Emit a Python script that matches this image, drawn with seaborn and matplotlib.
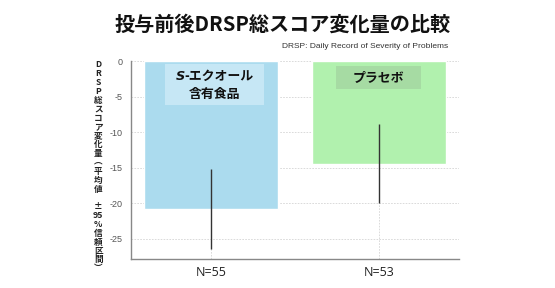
import matplotlib
matplotlib.use("Agg")
import matplotlib.pyplot as plt
import numpy as np
import pandas as pd
import seaborn as sns
from matplotlib.offsetbox import TextArea, HPacker, VPacker, AnnotationBbox, DrawingArea

# data
groups = ["S-エクオール含有食品", "プラセボ"]
tick_labels = ["N=55", "N=53"]
mean_change = [-20.8, -14.4]
ci_half = [5.6, 5.6]
bar_colors = ["#abdbee", "#b1f1ae"]
box_colors = ["#c6e7f5", "#a6dba3"]
yticks = [0, -5, -10, -15, -20, -25]

title = "投与前後DRSP総スコア変化量の比較"
subtitle = "DRSP: Daily Record of Severity of Problems"
ylabel = "DRSP総スコア変化量︵平均値 ±95%信頼区間︶"

sns.set_theme(style="white")
plt.rcParams["font.family"] = ["Noto Sans CJK JP", "DejaVu Sans"]

df = pd.DataFrame({"group": groups, "change": mean_change})

fig = plt.figure(figsize=(5.55, 2.88), dpi=100)
ax = fig.add_axes([0.236, 0.101, 0.591, 0.687])

sns.barplot(data=df, x="group", y="change", hue="group", palette=bar_colors,
            errorbar=None, width=0.8, legend=False, ax=ax, saturation=1)
ax.errorbar(np.arange(len(groups)), mean_change, yerr=ci_half, fmt="none",
            ecolor="#333333", elinewidth=1.0, capsize=0)

ax.set_xlim(-0.48, 1.48)
ax.set_ylim(-27.8, 0)
ax.set_yticks(yticks)
ax.set_yticklabels([str(t) for t in yticks], fontsize=6.5, color="#555555",
                   family=["Liberation Sans"])
ax.set_xticks(np.arange(len(groups)))
ax.set_xticklabels(tick_labels, fontsize=9, color="#222222", family=["Open Sans"])
ax.tick_params(axis="both", length=0, pad=6)
ax.tick_params(axis="x", pad=5)
ax.set_xlabel("")
ax.set_ylabel("")

ax.set_axisbelow(True)
ax.grid(True, linestyle=(0, (2, 1.5)), color="#d5d5d5", linewidth=0.6)
for side in ["top", "right"]:
    ax.spines[side].set_visible(False)
for side in ["left", "bottom"]:
    ax.spines[side].set_color("#888888")
    ax.spines[side].set_linewidth(1.0)

# labels inside the bars (italic S needs its own text piece)
jp = dict(size=9.3, weight="bold", color="#111111", family=["Noto Sans CJK JP", "DejaVu Sans"])
it = dict(size=9.3, weight="bold", style="italic", color="#111111", family=["DejaVu Sans"])
line1 = HPacker(children=[TextArea("S", textprops=it), TextArea("-エクオール", textprops=jp)],
                pad=0, sep=0, align="baseline")
body1 = VPacker(children=[line1, TextArea("含有食品", textprops=jp)],
                pad=0, sep=3, align="center")
label1 = HPacker(children=[DrawingArea(4, 1), body1, DrawingArea(4, 1)], pad=0, sep=0,
                 align="center")
label2 = HPacker(children=[DrawingArea(9, 1), TextArea("プラセボ", textprops=jp),
                           DrawingArea(9, 1)], pad=0, sep=0, align="center")

label_x = [0.02, 1.0]
label_y = [-1.05, -1.33]
for i, box in enumerate([label1, label2]):
    ab = AnnotationBbox(box, (label_x[i], label_y[i]), xycoords="data",
                        box_alignment=(0.5, 1), frameon=True, pad=0.25,
                        bboxprops=dict(fc=box_colors[i], ec="none", boxstyle="square"))
    ax.add_artist(ab)

# vertical y label, one character per line
chars = []
for ch in ylabel:
    if ch == "9":
        chars.append("95")
    elif ch == "5":
        continue
    else:
        chars.append(ch)
fig.text(0.177, 0.79, "\n".join(chars), ha="center", va="top", fontsize=6.2,
         fontweight="bold", color="#222222", linespacing=0.98)

fig.text(0.51, 0.915, title, ha="center", va="center", fontsize=14.5,
         fontweight="bold", color="#111111")
fig.text(0.808, 0.837, subtitle, ha="right", va="center", fontsize=6,
         color="#333333", family=["Liberation Sans"])

fig.savefig("out.png", dpi=100)
